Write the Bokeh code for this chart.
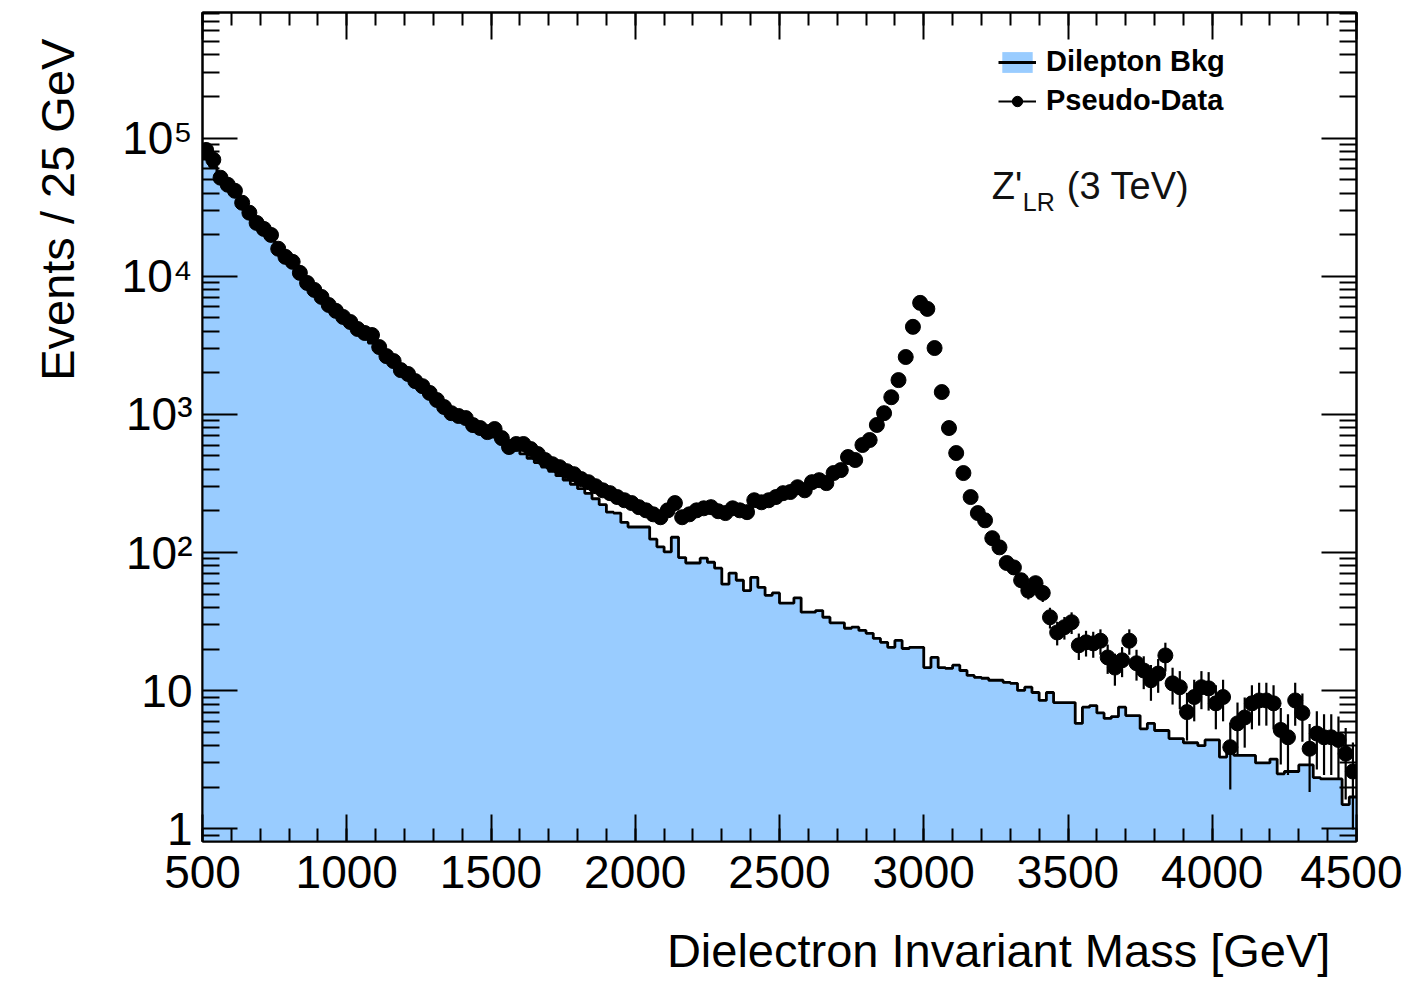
import math
from bokeh.plotting import figure
from bokeh.models import (Range1d, LogAxis, LinearAxis, FixedTicker, Label,
                          Legend, LegendItem, ColumnDataSource)
from bokeh.embed import file_html
from bokeh.resources import INLINE

FONT = "Liberation Sans"

# ---------------- data (25 GeV bins from 500 to 4500 GeV) ----------------
bin_width = 25
bin_low = list(range(500, 4500, bin_width))          # 160 bins
bin_edges = list(range(500, 4500 + bin_width, bin_width))

bkg = [
    72000, 62000, 53000, 46000, 40000, 34500, 29500, 25500, 22000, 19000,
    16300, 14200, 12300, 10700, 9300, 8100, 7050, 6150, 5400, 4750,
    4450, 4000, 3620, 3280, 2960, 2680, 2420, 2190, 1980, 1790,
    1620, 1470, 1330, 1200, 1090, 990, 915, 850, 790, 735,
    685, 640, 598, 556, 517, 481, 448, 416, 387, 360,
    335, 312, 290, 268, 245, 222, 196, 193, 165, 153,
    153, 153, 125, 110, 101, 129, 92, 84, 84, 91,
    85, 77, 59, 71, 63, 53, 66, 56, 49, 51,
    43, 43, 47, 37, 37, 38, 34, 31, 31, 28.3,
    28.8, 27.3, 26, 23.9, 22.4, 20.6, 23.1, 20.2, 20.6, 20.6,
    14.7, 17.4, 14.7, 14.5, 15.3, 14.0, 12.9, 12.5, 12.3, 11.9,
    11.9, 11.5, 11.3, 10.05, 10.6, 9.7, 8.5, 9.7, 8.2, 8.2,
    8.2, 5.8, 7.6, 7.8, 6.9, 6.3, 6.5, 7.6, 6.6, 6.6,
    5.3, 5.8, 5.15, 5.15, 4.5, 4.5, 4.2, 4.2, 4.0, 4.4,
    4.4, 3.3, 3.6, 3.4, 3.4, 3.4, 3.0, 3.0, 3.2, 2.5,
    2.6, 2.6, 2.9, 2.9, 2.35, 2.3, 2.3, 2.3, 1.5, 1.7,
]

pseudo_data = [
    82000, 69600, 51600, 45900, 41500, 34000, 28800, 24300, 22000, 19900,
    15800, 13800, 12700, 10570, 8940, 7960, 7080, 6190, 5610, 5070,
    4660, 4150, 3880, 3750, 3070, 2640, 2430, 2090, 1960, 1740,
    1600, 1430, 1270, 1130, 1020, 973, 940, 836, 796, 744,
    783, 673, 580, 610, 610, 561, 516, 467, 436, 415,
    388, 369, 340, 323, 302, 282, 269, 252, 239, 228,
    213, 202, 189, 180, 202, 228, 180, 189, 202, 209,
    213, 199, 193, 209, 202, 196, 239, 231, 239, 252,
    269, 274, 297, 282, 323, 334, 318, 376, 395, 491,
    467, 600, 652, 838, 1020, 1330, 1770, 2600, 4300, 6410,
    5800, 3020, 1450, 796, 525, 376, 252, 193, 171, 127,
    109, 84, 78, 63, 53, 60, 51, 34, 26.4, 28.8,
    31.3, 21.3, 22.4, 22, 23, 17.4, 14.7, 16.6, 23, 15.8,
    14, 11.9, 13.3, 18, 11.3, 10.6, 7, 9, 10.6, 10.4,
    8.1, 9, 3.9, 5.8, 6.4, 8.1, 8.5, 8.5, 8.1, 5.2,
    4.6, 8.5, 6.9, 3.8, 4.9, 4.6, 4.6, 4.4, 3.5, 2.6,
]

x_major = [500, 1000, 1500, 2000, 2500, 3000, 3500, 4000, 4500]
y_major = [1, 10, 100, 1000, 10000, 100000]
y_labels = ["1", "10", "10²", "10³", "10⁴", "10⁵"]

legend_labels = ["Dilepton Bkg", "Pseudo-Data"]
signal_name = "Z'"
signal_sub = "LR"
signal_mass = "(3 TeV)"
x_title = "Dielectron Invariant Mass [GeV]"
y_title = "Events / 25 GeV"
PAD = "\u00a0\u00a0"   # keeps the end-aligned titles slightly inside the axis end

# ---------------- figure ----------------
Y_MIN, Y_MAX = 0.81, 8.1e5
p = figure(frame_width=1154, frame_height=829, y_axis_type="log",
           x_range=Range1d(500, 4500), y_range=Range1d(Y_MIN, Y_MAX),
           output_backend="svg", toolbar_location=None, title=None,
           min_border_left=202, min_border_right=46, min_border_top=12,
           min_border_bottom=140,
           background_fill_color="white", border_fill_color="white")
p.grid.visible = False
p.outline_line_color = "black"
p.outline_line_width = 2

x_minor = list(range(500, 4501, 100))
y_minor = [0.9]
for dec in [1, 10, 100, 1000, 10000, 100000]:
    y_minor += [k * dec for k in range(2, 10)]

xt = FixedTicker(ticks=x_major, minor_ticks=x_minor)
yt = FixedTicker(ticks=y_major, minor_ticks=y_minor)


def make_overrides(ticks, labels):
    d = {}
    for v, s in zip(ticks, labels):
        d[v] = s
        d[str(v)] = s
    return d


def style_axis(ax, major_len, minor_len):
    ax.axis_line_color = "black"
    ax.axis_line_width = 2
    ax.major_tick_line_color = "black"
    ax.minor_tick_line_color = "black"
    ax.major_tick_line_width = 2
    ax.minor_tick_line_width = 2
    ax.major_tick_in = major_len
    ax.major_tick_out = 0
    ax.minor_tick_in = minor_len
    ax.minor_tick_out = 0
    ax.major_label_text_font = FONT
    ax.major_label_text_color = "black"
    ax.major_label_text_font_size = "46px"


xa = p.xaxis[0]
xa.ticker = xt
style_axis(xa, 27, 13)
xa.major_label_standoff = 14

ya = p.yaxis[0]
ya.ticker = yt
style_axis(ya, 35, 17)
ya.major_label_overrides = make_overrides(y_major, y_labels)
ya.major_label_standoff = 10

top_ax = LinearAxis(ticker=xt)
style_axis(top_ax, 27, 13)
top_ax.major_label_overrides = make_overrides(x_major, [""] * len(x_major))
top_ax.major_label_standoff = 0
p.add_layout(top_ax, "above")

right_ax = LogAxis(ticker=yt)
style_axis(right_ax, 35, 17)
right_ax.major_label_overrides = make_overrides(y_major, [""] * len(y_major))
right_ax.major_label_standoff = 0
p.add_layout(right_ax, "right")

# ---------------- axis titles (aligned to the axis end, ROOT style) ----------------
for ax, txt, so, orient in ((xa, x_title, 60, 0.0), (ya, y_title, 61, math.pi / 2)):
    ax.axis_label = txt + PAD
    ax.axis_label_align = "end"
    ax.axis_label_orientation = orient
    ax.axis_label_text_align = "right"
    ax.axis_label_standoff = so
    ax.axis_label_text_font = FONT
    ax.axis_label_text_font_size = "47px"
    ax.axis_label_text_font_style = "normal"
    ax.axis_label_text_color = "black"

# ---------------- background histogram ----------------
bkg_ext = bkg + [bkg[-1]]
area = p.varea_step(x=bin_edges, y1=[0.5] * len(bin_edges), y2=bkg_ext,
                    step_mode="after", fill_color="#99ccff")
outline = p.step(x=bin_edges, y=bkg_ext, mode="after",
                 line_color="black", line_width=2.8)

# ---------------- pseudo data ----------------
centers = [lo + bin_width / 2 for lo in bin_low]
err = [math.sqrt(v) for v in pseudo_data]
src = ColumnDataSource(dict(
    x=centers, y=pseudo_data,
    lo=bin_low, hi=[lo + bin_width for lo in bin_low],
    ylo=[v - e for v, e in zip(pseudo_data, err)],
    yhi=[v + e for v, e in zip(pseudo_data, err)],
))
p.segment(x0="x", y0="ylo", x1="x", y1="yhi", source=src,
          line_color="black", line_width=2.2)
hseg = p.segment(x0="lo", y0="y", x1="hi", y1="y", source=src,
                 line_color="black", line_width=2.2)
dots = p.scatter(x="x", y="y", source=src, marker="circle", size=15,
                 fill_color="black", line_color="black")

# ---------------- legend ----------------
legend = Legend(items=[
    LegendItem(label=legend_labels[0], renderers=[area, outline]),
    LegendItem(label=legend_labels[1], renderers=[hseg, dots]),
], location=(796, 724), orientation="vertical",
    border_line_color=None, background_fill_alpha=0,
    label_text_font=FONT, label_text_font_style="bold",
    label_text_font_size="29px", label_text_color="black",
    glyph_width=38, glyph_height=26, label_height=26,
    spacing=6, padding=0, margin=0, label_standoff=10)
p.add_layout(legend)

# ---------------- texts ----------------
zx, zy = 3236, 31500
p.add_layout(Label(x=zx, y=zy, text=signal_name, text_font=FONT,
                   text_font_size="38px", text_color="#111111"))
p.add_layout(Label(x=zx, y=zy, x_offset=31, y_offset=-9, text=signal_sub,
                   text_font=FONT, text_font_size="25px", text_color="#111111"))
p.add_layout(Label(x=zx, y=zy, x_offset=75, text=signal_mass, text_font=FONT,
                   text_font_size="38px", text_color="#111111"))

open("out.html", "w").write(file_html(p, INLINE))
